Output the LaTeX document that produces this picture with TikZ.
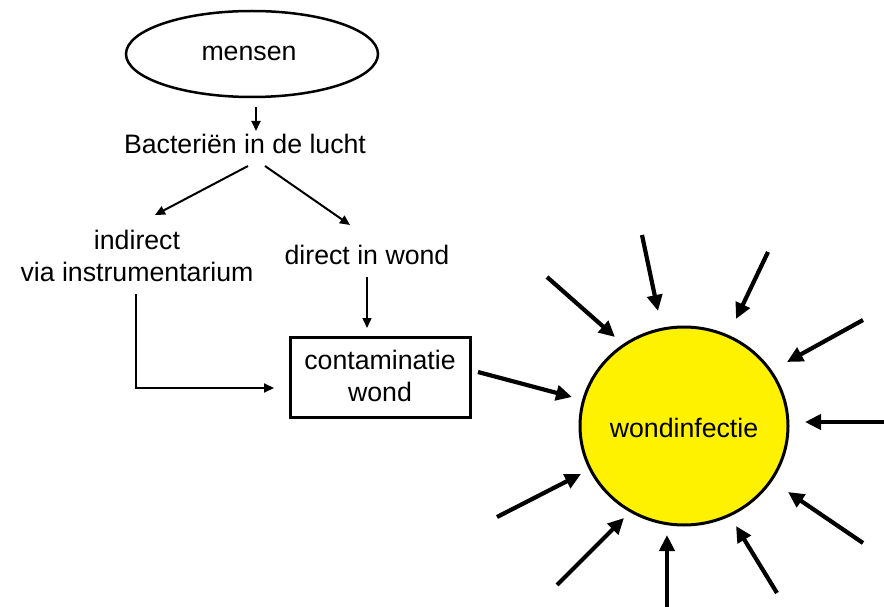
\documentclass[tikz,border=0pt]{standalone}
\usepackage{fontspec}
\setmainfont{Liberation Sans}
\usetikzlibrary{arrows.meta,shapes.geometric}
\begin{document}
\begin{tikzpicture}[x=1pt,y=-1pt,
  txt/.style={font=\fontsize{26.7}{32}\selectfont, inner sep=0pt, align=center},
  thin/.style={line width=2pt, -{Triangle[length=10pt,width=9pt]}},
  thick/.style={line width=4.2pt, -{Triangle[length=16pt,width=15pt]}}]
\useasboundingbox (0,0) rectangle (884,607);
% nodes
\node[draw, ellipse, line width=2.5pt, minimum width=252pt, minimum height=86pt, inner sep=0pt] (mensen) at (252,54) {};
\node[txt] (mensentxt) at (249,53) {mensen};
\node[txt] (bact) at (245,144) {Bacteriën in de lucht};
\node[txt] (indirect) at (137,256) {indirect\\via instrumentarium};
\node[txt] (direct) at (367,255) {direct in wond};
\node[draw, line width=3pt, minimum width=180pt, minimum height=80pt, txt] (cont) at (380,377) {};
\node[txt] (conttxt) at (380,376) {contaminatie\\wond};
\node[draw, ellipse, line width=3pt, fill=yellow, minimum width=208pt, minimum height=198pt, inner sep=0pt] (sun) at (684,426) {};
\node[txt] (suntxt) at (684,428) {wondinfectie};
% flow arrows
\coordinate (a1) at (256,107); \coordinate (a2) at (256,131);
\draw[thin] (a1) -- (a2);
\coordinate (b1) at (248,166); \coordinate (b2) at (155,215);
\draw[thin] (b1) -- (b2);
\coordinate (c1) at (265,166); \coordinate (c2) at (350,225);
\draw[thin] (c1) -- (c2);
\coordinate (d1) at (367,277); \coordinate (d2) at (367,328);
\draw[thin,line width=1.5pt] (d1) -- (d2);
\coordinate (e1) at (136,294); \coordinate (e2) at (274,388);
\draw[thin] (e1) |- (e2);
% sun arrows
\foreach \sx/\sy/\tx/\ty [count=\i] in {
  478/372/572/397,
  547/277/615/337,
  642/235/658/311,
  768/252/736/319,
  863/320/787/362,
  884/422/805/422,
  863/543/788/492,
  777/593/736/526,
  667/607/667/535,
  557/585/624/518,
  497/517/581/474}{
  \coordinate (s\i) at (\sx,\sy);
  \coordinate (t\i) at (\tx,\ty);
  \draw[thick] (s\i) -- (t\i);
}
\end{tikzpicture}
\end{document}
